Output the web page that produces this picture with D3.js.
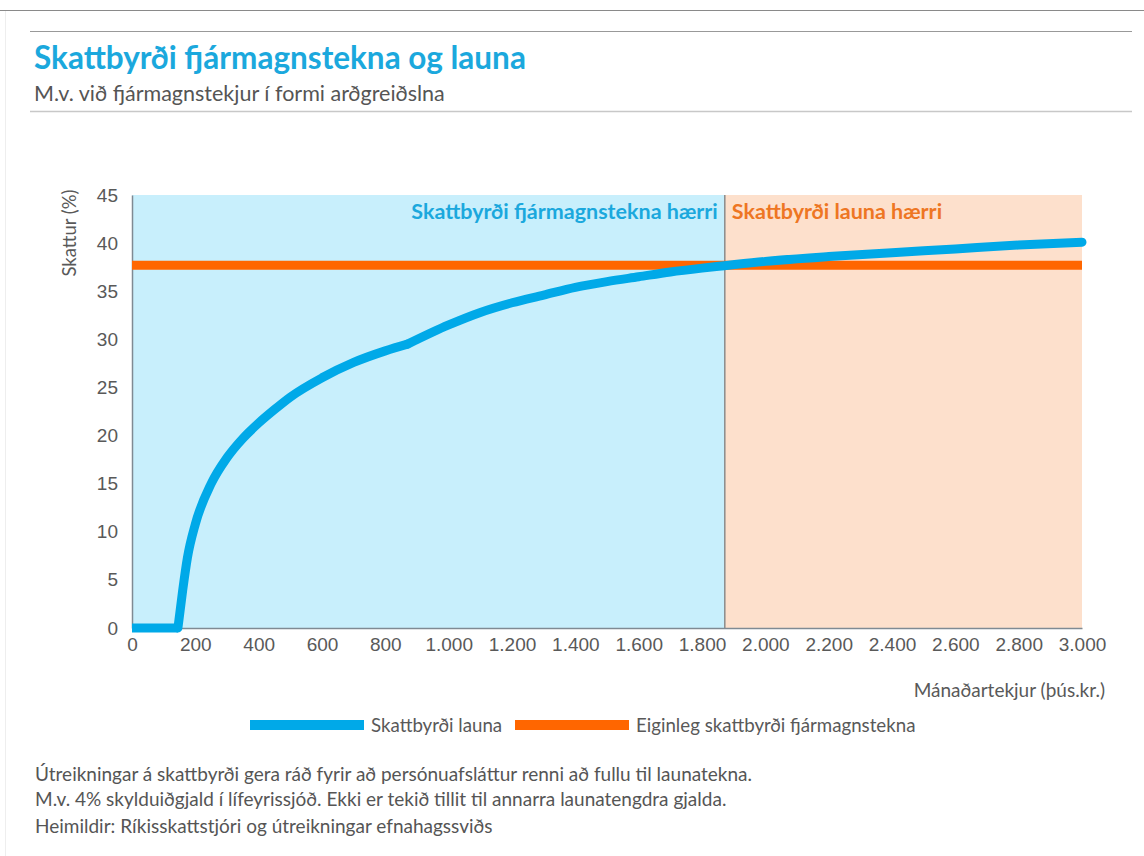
<!DOCTYPE html>
<html>
  <head>
    <meta charset="utf-8">
    <title>Skattbyrði</title>
    <script src="https://d3js.org/d3.v7.min.js"></script>
    <style>
    body { margin:0; background:#fff; }
    svg { display:block; font-family: Lato, "Open Sans", sans-serif; }
    .tick text { fill:#595959; font-size:19px; }
    .note { fill:#555; font-size:19px; }
    </style>
  </head>
  <body>
    <script>

// monthly income (thous. ISK) and tax burden on wages (%)
var income = [0, 100, 145, 160, 175, 200, 250, 300, 350, 400, 450, 500, 600, 700, 800, 870,
              1000, 1100, 1200, 1300, 1400, 1500, 1600, 1700, 1800, 1870, 2000, 2200,
              2400, 2600, 2800, 3000];
var wageTax = [0, 0, 0, 3.9, 7.3, 10.8, 15, 17.7, 19.7, 21.3, 22.7, 24.0, 26.0, 27.6, 28.8, 29.5,
               31.5, 32.8, 33.8, 34.6, 35.4, 36, 36.5, 37, 37.4, 37.65, 38.1, 38.6,
               39.0, 39.4, 39.8, 40.1];
var breaks = [145, 870];    // corners in the wage curve (allowance ends, bracket change)
var capitalTax = 37.7;      // effective tax on dividends
var crossover = 1872;       // where the two lines meet
var xTicks = d3.range(0, 3001, 200);
var yTicks = d3.range(0, 46, 5);
var seriesNames = ["Skattbyrði launa", "Eiginleg skattbyrði fjármagnstekna"];
var regionLabels = ["Skattbyrði fjármagnstekna hærri", "Skattbyrði launa hærri"];
var notes = [
  "Útreikningar á skattbyrði gera ráð fyrir að persónuafsláttur renni að fullu til launatekna.",
  "M.v. 4% skylduiðgjald í lífeyrissjóð. Ekki er tekið tillit til annarra launatengdra gjalda.",
  "Heimildir: Ríkisskattstjóri og útreikningar efnahagssviðs"
];

var blue = "#00a9e8", orange = "#ff6600";
var width = 1144, height = 856;

var svg = d3.select("body").append("svg")
    .attr("width", width)
    .attr("height", height);

// frame lines
svg.append("line").attr("x1", 0).attr("x2", width).attr("y1", 10.5).attr("y2", 10.5)
    .attr("stroke", "#8a8a8a").attr("stroke-width", 1);
svg.append("line").attr("x1", 5.5).attr("x2", 5.5).attr("y1", 11).attr("y2", height)
    .attr("stroke", "#eee").attr("stroke-width", 1);
svg.append("line").attr("x1", 30).attr("x2", 1132).attr("y1", 31.5).attr("y2", 31.5)
    .attr("stroke", "#999").attr("stroke-width", 1);
svg.append("line").attr("x1", 30).attr("x2", 1132).attr("y1", 111.5).attr("y2", 111.5)
    .attr("stroke", "#c8c8c8").attr("stroke-width", 1.5);

svg.append("text").attr("x", 34).attr("y", 69)
    .style("font-size", "31.5px").style("font-weight", "bold").style("fill", "#1ba8dd")
    .text("Skattbyrði fjármagnstekna og launa");
svg.append("text").attr("x", 34).attr("y", 101)
    .style("font-size", "21.5px").style("fill", "#555")
    .text("M.v. við fjármagnstekjur í formi arðgreiðslna");

var x = d3.scaleLinear().domain([0, 3000]).range([132, 1082]);
var y = d3.scaleLinear().domain([0, 45]).range([628, 195]);

// background regions
svg.append("rect").attr("x", x(0)).attr("y", y(45))
    .attr("width", x(crossover) - x(0)).attr("height", y(0) - y(45))
    .attr("fill", "#c8effc");
svg.append("rect").attr("x", x(crossover)).attr("y", y(45))
    .attr("width", x(3000) - x(crossover)).attr("height", y(0) - y(45))
    .attr("fill", "#fde0cc");
svg.append("line").attr("x1", x(crossover)).attr("x2", x(crossover))
    .attr("y1", y(45)).attr("y2", y(0))
    .attr("stroke", "#8a8a8a").attr("stroke-width", 1.5);

svg.append("text").attr("x", x(crossover) - 7).attr("y", 219)
    .attr("text-anchor", "end")
    .style("font-size", "21.5px").style("font-weight", "bold").style("fill", "#1ba8dd")
    .text(regionLabels[0]);
svg.append("text").attr("x", x(crossover) + 7).attr("y", 219)
    .style("font-size", "21.5px").style("font-weight", "bold").style("fill", "#ee7623")
    .text(regionLabels[1]);

// axes
var fmt = function(d) { return d3.format(",")(d).replace(/,/g, "."); };
svg.append("g").attr("transform", "translate(0," + y(0) + ")")
    .call(d3.axisBottom(x).tickValues(xTicks).tickSize(0).tickPadding(10).tickFormat(fmt))
    .call(function(g) {
      g.select(".domain").attr("stroke", "#7f8a93").attr("stroke-width", 1.5);
      g.selectAll("text").attr("font-family", null).attr("font-size", null);
    });
svg.append("g").attr("transform", "translate(" + x(0) + ",0)")
    .call(d3.axisLeft(y).tickValues(yTicks).tickSize(0).tickPadding(14))
    .call(function(g) {
      g.select(".domain").attr("stroke", "#7f8a93").attr("stroke-width", 1.5);
      g.selectAll("text").attr("font-family", null).attr("font-size", null);
    });

svg.append("text").attr("transform", "translate(76,233) rotate(-90)")
    .attr("text-anchor", "middle")
    .style("font-size", "18.5px").style("fill", "#595959")
    .text("Skattur (%)");
svg.append("text").attr("x", 1105).attr("y", 697)
    .attr("text-anchor", "end")
    .style("font-size", "19px").style("fill", "#595959")
    .text("Mánaðartekjur (þús.kr.)");

// lines
svg.append("line")
    .attr("x1", x(0)).attr("x2", x(3000))
    .attr("y1", y(capitalTax)).attr("y2", y(capitalTax))
    .attr("stroke", orange).attr("stroke-width", 9);

var pts = income.map(function(v, i) { return [v, wageTax[i]]; });
var pieces = [
  { data: pts.filter(function(p) { return p[0] <= breaks[0]; }), curve: d3.curveLinear },
  { data: pts.filter(function(p) { return p[0] >= breaks[0] && p[0] <= breaks[1]; }), curve: d3.curveMonotoneX },
  { data: pts.filter(function(p) { return p[0] >= breaks[1]; }), curve: d3.curveMonotoneX }
];
pieces.forEach(function(pc) {
  svg.append("path")
      .datum(pc.data)
      .attr("d", d3.line()
        .x(function(d) { return x(d[0]); })
        .y(function(d) { return y(d[1]); })
        .curve(pc.curve))
      .attr("fill", "none")
      .attr("stroke", blue)
      .attr("stroke-width", 9)
      .attr("stroke-linecap", function() { return pc === pieces[0] ? "butt" : "round"; })
      .attr("stroke-linejoin", "round");
});

// legend
var legend = svg.append("g").attr("transform", "translate(0,725)");
var legendX = [250, 515];
[blue, orange].forEach(function(c, i) {
  legend.append("rect").attr("x", legendX[i]).attr("y", -5)
      .attr("width", 114).attr("height", 10).attr("fill", c);
  legend.append("text").attr("x", legendX[i] + 121).attr("y", 7)
      .style("font-size", "18.7px").style("fill", "#595959")
      .text(seriesNames[i]);
});

// notes
var noteY = [781, 806, 833];
notes.forEach(function(t, i) {
  svg.append("text").attr("class", "note").attr("x", 35).attr("y", noteY[i]).text(t);
});

    </script>
  </body>
</html>
